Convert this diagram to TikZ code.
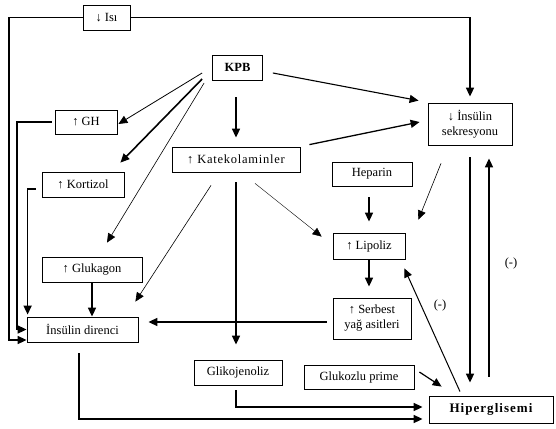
\documentclass[tikz,border=0pt]{standalone}
\usepackage{fontspec}
\setmainfont{Liberation Serif}
\usetikzlibrary{arrows.meta}
\begin{document}
\begin{tikzpicture}[x=1pt,y=-1pt,
  box/.style={draw, line width=0.8pt, inner sep=0pt, align=center,
    font=\fontsize{12.5}{15}\selectfont},
  tip/.style={-{Triangle[length=9pt,width=8pt]}},
  thk/.style={tip, line width=1.6pt},
  med/.style={tip, line width=1.1pt},
  thn/.style={tip, line width=0.6pt},
  plain/.style={line width=1.6pt},
  lbl/.style={font=\fontsize{12.5}{15}\selectfont, inner sep=0pt}
]
\useasboundingbox (0,0) rectangle (556,428);

% nodes
\node[box, minimum width=47, minimum height=25] (isi) at (106.5,17.5) {↓ Isı};
\node[box, minimum width=50, minimum height=25, font=\fontsize{12.5}{15}\selectfont\bfseries] (kpb) at (237.5,67.5) {KPB};
\node[box, minimum width=62, minimum height=24] (gh) at (86,122) {↑ GH};
\node[box, minimum width=84, minimum height=42] (sek) at (470,124) {↓ İnsülin\\sekresyonu};
\node[box, minimum width=128, minimum height=25] (kat) at (236,159.5) {\addfontfeatures{LetterSpace=6}↑ Katekolaminler};
\node[box, minimum width=82, minimum height=25] (kor) at (83,184.5) {↑ Kortizol};
\node[box, minimum width=80, minimum height=24] (hep) at (372,174) {Heparin};
\node[box, minimum width=72, minimum height=26] (lip) at (369,246) {↑ Lipoliz};
\node[box, minimum width=100, minimum height=25] (glu) at (92,270) {↑ Glukagon};
\node[box, minimum width=111, minimum height=25] (dir) at (82.5,329.5) {İnsülin direnci};
\node[box, minimum width=78, minimum height=41] (syz) at (372,318.5) {↑ Serbest\\yağ asitleri};
\node[box, minimum width=88, minimum height=25] (gli) at (238,372.5) {Glikojenoliz};
\node[box, minimum width=110, minimum height=24] (gp) at (359,377) {Glukozlu prime};
\node[box, minimum width=124, minimum height=27, font=\fontsize{13}{15}\selectfont\bfseries] (hip) at (491,409.5) {\addfontfeatures{LetterSpace=8}Hiperglisemi};

% Isı connections
\draw[thk] (isi.west) -- (9,17.5) |- (dir.west |- 0,340);
\draw[thk, shorten >=6pt] (isi.east) -| (sek.north);

% left feedback lines
\draw[thk, shorten <=3pt] (gh.west) -- (17,122) |- (dir.west);
\draw[thk] ([shift={(-6,4.5)}]kor.west) -| ([shift={(1,-2)}]dir.north west);
\draw[thk] (glu.south) -- (glu.south |- dir.north);

% KPB fan
\draw[thn, line width=0.8pt] ([shift={(-10,5.5)}]kpb.west) -- ([shift={(1,2)}]gh.east);
\draw[thk] ([shift={(-10,11.5)}]kpb.west) -- ([shift={(-4,-9)}]kor.north east);
\draw[thn] ([shift={(-8,15.5)}]kpb.west) -- ([shift={(15,-14.5)}]glu.north);
\draw[med] ([shift={(10,5.5)}]kpb.east) -- ([shift={(-9,-2)}]sek.north west);
\draw[thk, shorten <=17pt, shorten >=9pt] (kat.north |- kpb.south) -- (kat.north);

% Katekolaminler
\draw[med, line width=1.3pt] ([shift={(9,-2)}]kat.north east) -- ([shift={(-8,-2)}]sek.west);
\draw[thn, line width=0.4pt] ([shift={(19,11)}]kat.south) -- ([shift={(-11,4)}]lip.north west);
\draw[thk, shorten <=10pt, shorten >=15pt] (kat.south) -- (kat.south |- gli.north);
\draw[thn] ([shift={(-25,13)}]kat.south) -- ([shift={(-3,-15)}]dir.north east);

% Lipoliz block
\draw[thk, shorten <=11pt, shorten >=11pt] (hep.south -| lip.north) -- (lip.north);
\draw[thn] ([shift={(-29,18)}]sek.south) -- ([shift={(13,-13)}]lip.north east);
\draw[thk, shorten >=11pt] (lip.south) -- (lip.south |- syz.north);
\draw[thk] ([shift={(-6,3.5)}]syz.west) -- ([shift={(10,-7.5)}]dir.east);

% Hiperglisemi
\draw[med, line width=1pt] ([shift={(-31,-4)}]hip.north) -- ([shift={(-1,9)}]lip.south east);
\node[lbl] (m1) at (440,305) {(-)};
\draw[thk, shorten <=12pt, shorten >=13pt] (sek.south) -- (sek.south |- hip.north);
\draw[thk] ([shift={(-2,-19)}]hip.north) -- ([shift={(19,13)}]sek.south);
\node[lbl] (m2) at (511,263) {(-)};
\draw[med, line width=1.2pt] ([shift={(5,-5)}]gp.east) -- ([shift={(13,-9)}]hip.north west);
\draw[thk] ([shift={(-2,5)}]gli.south) |- ([shift={(-6,-2.5)}]hip.west);
\draw[thk] ([shift={(-3.5,11)}]dir.south) |- ([shift={(-6,9.5)}]hip.west);
\end{tikzpicture}
\end{document}
